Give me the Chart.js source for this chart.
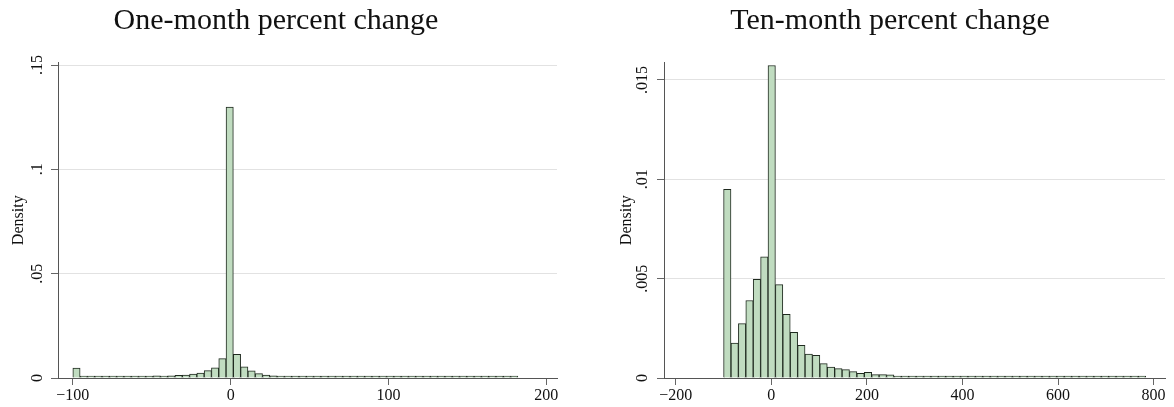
<!DOCTYPE html>
<html>
<head>
<meta charset="utf-8">
<script src="https://cdn.jsdelivr.net/npm/chart.js@4"></script>
<style>
  body { margin: 0; background: #fff; }
  #wrap { position: relative; width: 1174px; height: 407px; overflow: hidden; }
  canvas { position: absolute; top: 0; }
</style>
</head>
<body>
<div id="wrap">
  <canvas id="oneMonth" width="565" height="407" style="left:-5px"></canvas>
  <canvas id="tenMonth" width="553" height="407" style="left:615px"></canvas>
</div>
<script>
// Istogramma: variazione percentuale a un mese
const oneTitle = 'One-month percent change';
const oneBinStart = -100;
const oneBinWidth = 4.623;
const oneDensity = [
  0.0048, 0.0002, 0.0001, 0.0001, 0.0001, 0.0001, 0.0001, 0.0002, 0.0002, 0.0003,
  0.0005, 0.0010, 0.0008, 0.0010, 0.0013, 0.0014, 0.0019, 0.0024, 0.0035, 0.0049,
  0.0093, 0.1298, 0.0113, 0.0053, 0.0034, 0.0021, 0.0014, 0.0010, 0.0008, 0.0005,
  0.0004, 0.0004, 0.0003, 0.0002, 0.0002, 0.00015, 0.00012, 0.0001, 0.0001, 0.00008,
  0.00008, 0.00007, 0.00006, 0.00006, 0.00005, 0.00005, 0.00005, 0.00004, 0.00004, 0.00004,
  0.00003, 0.00003, 0.00003, 0.00003, 0.00003, 0.00002, 0.00002, 0.00002, 0.00002, 0.00002,
  0.00002
];
const oneXTicks = [-100, 0, 100, 200];
const oneXLabels = ['\u2212100', '0', '100', '200'];
const oneYTicks = [0, 0.05, 0.1, 0.15];
const oneYLabels = ['0', '.05', '.1', '.15'];

// Istogramma: variazione percentuale a dieci mesi
const tenTitle = 'Ten-month percent change';
const tenBinStart = -100;
const tenBinWidth = 15.5;
const tenDensity = [
  0.0095, 0.00176, 0.00274, 0.0039, 0.00497, 0.0061, 0.01573, 0.0047, 0.0032, 0.0023,
  0.00164, 0.0012, 0.00114, 0.00072, 0.00055, 0.00047, 0.00042, 0.00032, 0.00024, 0.00029,
  0.00017, 0.00017, 0.00016, 0.0001, 0.0001, 0.0001, 0.00008, 0.00006, 0.00005, 0.00005,
  0.00004, 0.00004, 0.00007, 0.00003, 0.00003, 0.00003, 0.00003, 0.00003, 0.00003, 0.00002,
  0.00002, 0.00002, 0.00002, 0.00002, 0.00002, 0.00002, 0.00002, 0.00001, 0.00001, 0.00001,
  0.00001, 0.00001, 0.00001, 0.00001, 0.00001, 0.00001, 0.00001
];
const tenXTicks = [-200, 0, 200, 400, 600, 800];
const tenXLabels = ['\u2212200', '0', '200', '400', '600', '800'];
const tenYTicks = [0, 0.005, 0.01, 0.015];
const tenYLabels = ['0', '.005', '.01', '.015'];

Chart.defaults.font.family = '"Liberation Serif", "Times New Roman", serif';
Chart.defaults.color = '#111';

function makeHist(id, cfg) {
  const data = cfg.density.map((d, i) => ({ x: cfg.binStart + cfg.binWidth * (i + 0.5), y: d }));
  return new Chart(document.getElementById(id), {
    type: 'bar',
    data: {
      datasets: [{
        data,
        backgroundColor: '#c0dcc0',
        borderColor: '#1f2a1f',
        borderWidth: 1,
        borderSkipped: 'start',
        minBarLength: 2,
        categoryPercentage: 1,
        barPercentage: 1
      }]
    },
    options: {
      responsive: false,
      animation: false,
      devicePixelRatio: 1,
      layout: { padding: { left: 0, right: 3, top: 0, bottom: 0 } },
      plugins: {
        legend: { display: false },
        tooltip: { enabled: false },
        title: {
          display: true,
          text: cfg.title,
          color: '#111',
          font: { size: 30, weight: 'normal' },
          padding: { top: 3, bottom: 23.5 }
        }
      },
      scales: {
        x: {
          type: 'linear',
          offset: false,
          min: cfg.xMin,
          max: cfg.xMax,
          afterBuildTicks: s => { s.ticks = cfg.xTicks.map(v => ({ value: v })); },
          afterFit: s => { s.height = 29; s.paddingLeft = 0; s.paddingRight = 0; },
          ticks: { font: { size: 16 }, padding: 1, maxRotation: 0, autoSkip: false, callback: (v, i) => cfg.xLabels[i] },
          grid: { display: true, drawOnChartArea: false, drawTicks: true, tickLength: 7, tickColor: '#666', offset: false },
          border: { display: true, color: '#555', width: 1 }
        },
        y: {
          min: 0,
          max: cfg.yMax,
          afterBuildTicks: s => { s.ticks = cfg.yTicks.map(v => ({ value: v })); },
          afterFit: s => { s.width = cfg.axisWidth; },
          title: { display: true, text: 'Density', color: '#111', font: { size: 16 }, padding: { top: cfg.titlePad, bottom: 0 } },
          ticks: { font: { size: 16 }, minRotation: 90, maxRotation: 90, crossAlign: 'center', padding: cfg.tickPad, autoSkip: false, callback: (v, i) => cfg.yLabels[i] },
          grid: {
            color: c => (c.tick && c.tick.value === 0) ? 'rgba(0,0,0,0)' : '#e2e2e2',
            lineWidth: 1,
            tickLength: 7,
            tickColor: '#666'
          },
          border: { display: true, color: '#555', width: 1 }
        }
      }
    }
  });
}

makeHist('oneMonth', {
  title: oneTitle, binStart: oneBinStart, binWidth: oneBinWidth, density: oneDensity,
  xTicks: oneXTicks, xLabels: oneXLabels, yTicks: oneYTicks, yLabels: oneYLabels,
  xMin: -109.4, xMax: 206.8, yMax: 0.1512,
  axisWidth: 63, titlePad: 13.9, tickPad: 3.5
});

makeHist('tenMonth', {
  title: tenTitle, binStart: tenBinStart, binWidth: tenBinWidth, density: tenDensity,
  xTicks: tenXTicks, xLabels: tenXLabels, yTicks: tenYTicks, yLabels: tenYLabels,
  xMin: -224.7, xMax: 823.9, yMax: 0.01588,
  axisWidth: 49, titlePad: 2.4, tickPad: 0
});
</script>
</body>
</html>
